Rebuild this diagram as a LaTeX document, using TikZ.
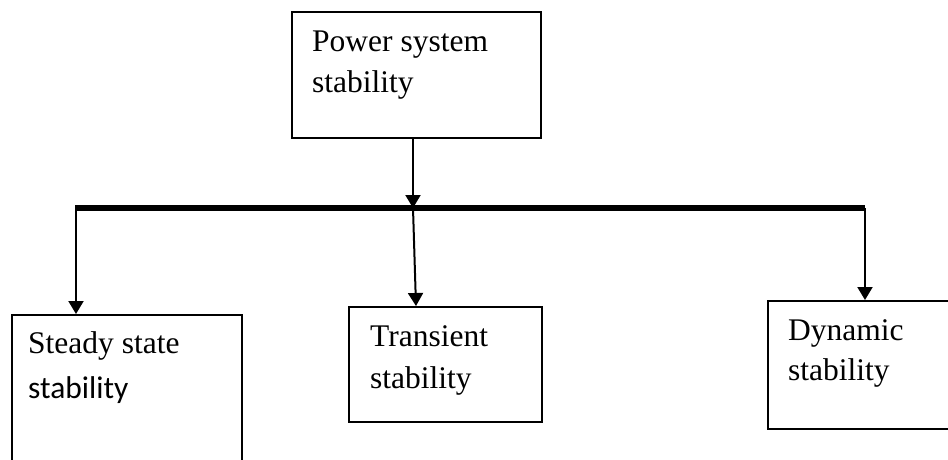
\documentclass[tikz,border=0pt]{standalone}
\usepackage{fontspec}
\setmainfont{Liberation Serif}
\newfontfamily\carl{Carlito}
\usetikzlibrary{arrows.meta}
\begin{document}
\begin{tikzpicture}[x=1pt,y=-1pt,
  box/.style={draw=black, line width=1.5pt, anchor=north west, inner sep=0pt},
  lbl/.style={anchor=base west, inner sep=0pt, font=\fontsize{31.5}{41}\selectfont},
  arr/.style={line width=2pt, -{Triangle[length=13pt,width=15pt]}},
  bar/.style={line width=6pt}]
\useasboundingbox (0,0) rectangle (948,459);
\clip (0,0) rectangle (948,459);
% boxes
\node[box, minimum width=249pt, minimum height=126pt] (top) at (291,11) {};
\node[box, minimum width=230pt, minimum height=170pt] (left) at (11,314) {};
\node[box, minimum width=193pt, minimum height=115pt] (mid) at (348,306) {};
\node[box, minimum width=200pt, minimum height=128pt] (right) at (767,300) {};
% texts
\node[lbl] (t1) at (312,51) {Power system};
\node[lbl] (t2) at (312,92) {stability};
\node[lbl] (l1) at (28,353) {Steady state};
\node[lbl, font=\carl\fontsize{31.5}{41}\selectfont] (l2) at (28,398) {stability};
\node[lbl] (m1) at (370,346) {Transient};
\node[lbl] (m2) at (370,388) {stability};
\node[lbl] (r1) at (788,340) {Dynamic};
\node[lbl] (r2) at (788,380) {stability};
% connectors
\coordinate (bl) at (75,208);
\coordinate (bm) at (413,208);
\coordinate (br) at (865,208);
\coordinate (tb) at (413,137);
\draw[bar] (bl) -- (br);
\draw[arr] (tb) -- (bm);
\draw[arr] ([xshift=1pt]bl) -- ([xshift=1pt]bl |- left.north);
\draw[arr] (bm) -- ([xshift=3pt]bm |- mid.north);
\draw[arr] (br) -- (br |- right.north);
\end{tikzpicture}
\end{document}
